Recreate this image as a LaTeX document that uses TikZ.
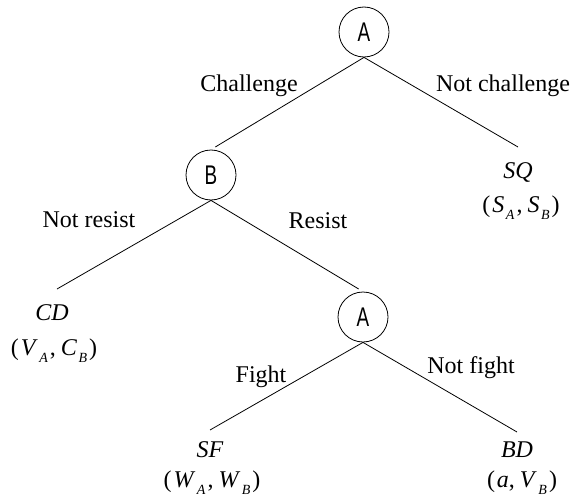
\documentclass[tikz,border=0pt]{standalone}
\usepackage{fontspec}
\setmainfont{Liberation Serif}
\newfontfamily\circfont{Liberation Sans}
\usepackage{graphicx}
\newcommand\subsc[1]{\raisebox{-7pt}{\fontsize{14}{14}\selectfont\textit{#1}}}
\newcommand\vpair[4]{(\kern2pt\textit{#1}\kern1.5pt\subsc{#2}\kern2pt,\kern5pt\textit{#3}\kern1.5pt\subsc{#4}\kern2pt)}
\tikzset{
  player/.style={circle,draw,line width=0.8pt,minimum size=50pt,inner sep=0pt,
    font=\circfont\fontsize{27}{27}\selectfont},
  branch/.style={line width=0.8pt},
  lbl/.style={anchor=base,inner sep=0pt,font=\fontsize{24}{24}\selectfont},
  outc/.style={anchor=base,inner sep=0pt,font=\fontsize{24}{24}\selectfont},
}
\begin{document}
\begin{tikzpicture}[x=1pt,y=-1pt]
\useasboundingbox (0,0) rectangle (570,503);
\node[player] (a1) at (364,32) {\scalebox{0.7}[1]{A}};
\node[player] (b) at (211,175) {\scalebox{0.7}[1]{B}};
\node[player] (a2) at (363,317) {\scalebox{0.7}[1]{A}};
\coordinate (sq) at (518,147);
\coordinate (cd) at (57,289);
\coordinate (sf) at (210,430);
\coordinate (bd) at (517,432);
\draw[branch,shorten >=5pt] (a1.south) -- (b.north);
\draw[branch] (a1.south) -- (sq);
\draw[branch] (b.south) -- (cd);
\draw[branch,shorten >=5pt] (b.south) -- (a2.north);
\draw[branch] (a2.south) -- (sf);
\draw[branch] (a2.south) -- (bd);
\node[lbl] (l1) at (249,92) {Challenge};
\node[lbl] (l2) at (503,92) {Not challenge};
\node[lbl] (l3) at (89,227) {Not resist};
\node[lbl] (l4) at (318,228) {Resist};
\node[lbl] (l5) at (261,382) {Fight};
\node[lbl] (l6) at (471,373) {Not fight};
\node[outc] (o1) at (518,178) {\textit{SQ}};
\node[outc] (p1) at (521,212) {\vpair{S}{A}{S}{B}};
\node[outc] (o2) at (52,320) {\textit{CD}};
\node[outc] (p2) at (54,355) {\vpair{V}{A}{C}{B}};
\node[outc] (o3) at (210,457) {\textit{SF}};
\node[outc] (p3) at (212,487) {\vpair{W}{A}{W}{B}};
\node[outc] (o4) at (517,457) {\textit{BD}};
\node[outc] (p4) at (522,487) {(\kern2pt\textit{a},\kern5pt\textit{V}\kern1.5pt\subsc{B}\kern2pt)};
\end{tikzpicture}
\end{document}
